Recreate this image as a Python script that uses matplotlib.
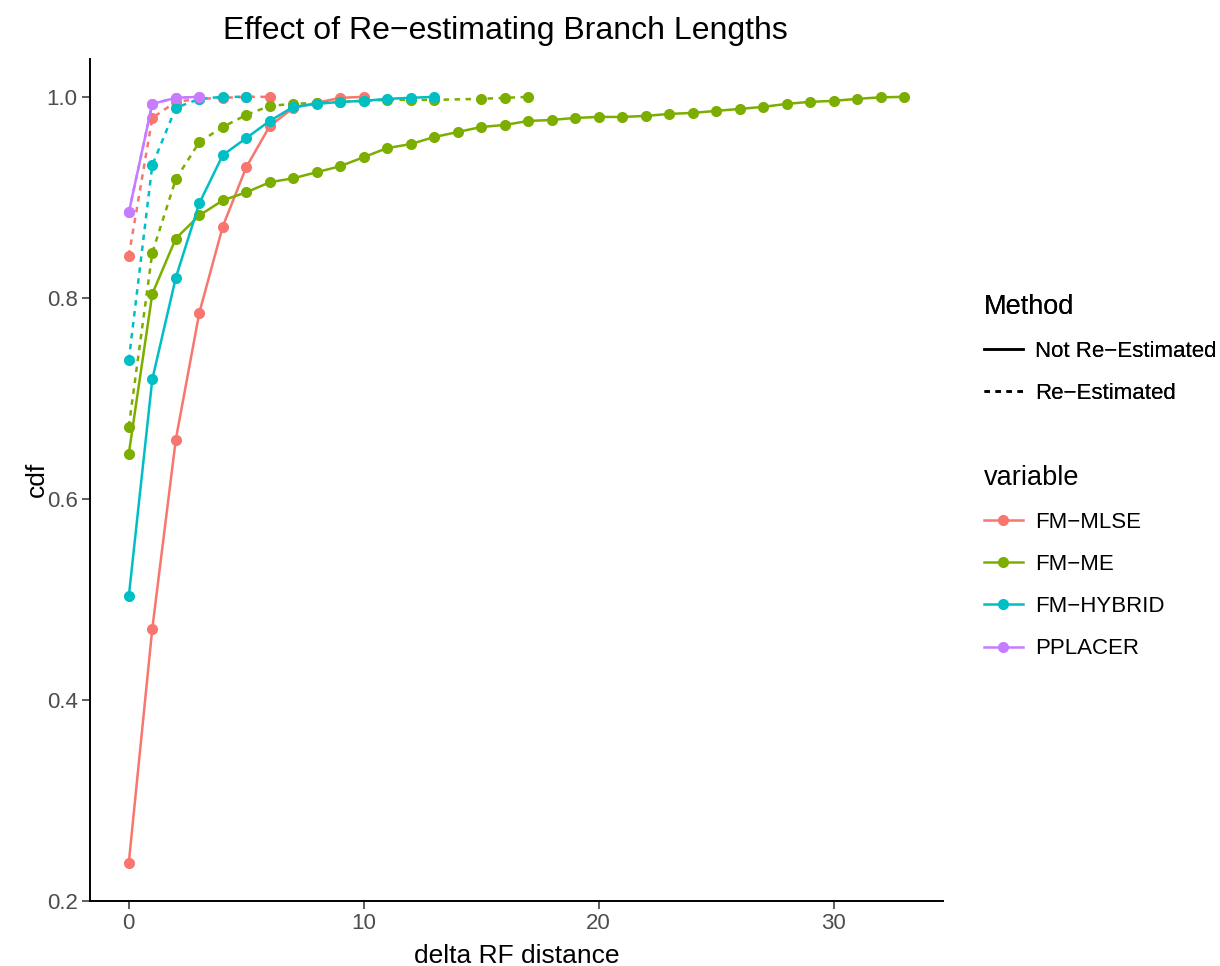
import matplotlib
matplotlib.use("Agg")
import matplotlib.pyplot as plt
from matplotlib.lines import Line2D

plt.rcParams['font.family'] = ['Liberation Sans', 'DejaVu Sans']

# cdf of delta RF distance, per placement method
mlse_x = list(range(0, 11))
mlse_y = [0.238, 0.471, 0.659, 0.785, 0.871, 0.930, 0.971, 0.989, 0.994, 0.999, 1.000]
mlse_re_x = list(range(0, 7))
mlse_re_y = [0.842, 0.979, 0.995, 0.998, 0.999, 1.000, 1.000]

me_x = list(range(0, 34))
me_y = [0.645, 0.804, 0.859, 0.882, 0.897, 0.905, 0.915, 0.919, 0.925, 0.931,
        0.940, 0.949, 0.953, 0.960, 0.965, 0.970, 0.972, 0.976, 0.977, 0.979,
        0.980, 0.980, 0.981, 0.983, 0.984, 0.986, 0.988, 0.990, 0.993, 0.995,
        0.996, 0.998, 0.9995, 1.000]
me_re_x = [0, 1, 2, 3, 4, 5, 6, 7, 8, 9, 10, 11, 12, 13, 15, 16, 17]
me_re_y = [0.672, 0.845, 0.918, 0.955, 0.970, 0.982, 0.991, 0.993, 0.994, 0.995,
           0.996, 0.997, 0.997, 0.997, 0.998, 0.999, 1.000]

hyb_x = list(range(0, 14))
hyb_y = [0.503, 0.719, 0.820, 0.894, 0.942, 0.959, 0.976, 0.990, 0.993, 0.995,
         0.996, 0.998, 0.999, 1.000]
hyb_re_x = list(range(0, 6))
hyb_re_y = [0.738, 0.932, 0.989, 0.998, 1.000, 1.000]

ppl_x = [0, 1, 2, 3]
ppl_y = [0.885, 0.993, 0.999, 1.000]
ppl_re_x = [0, 1, 2, 3]
ppl_re_y = [0.885, 0.993, 0.999, 1.000]

variables = ["FM\u2212MLSE", "FM\u2212ME", "FM\u2212HYBRID", "PPLACER"]
colors = ["#F8766D", "#7CAE00", "#00BFC4", "#C77CFF"]
methods = ["Not Re\u2212Estimated", "Re\u2212Estimated"]

series = [
    (mlse_x, mlse_y, mlse_re_x, mlse_re_y),
    (me_x, me_y, me_re_x, me_re_y),
    (hyb_x, hyb_y, hyb_re_x, hyb_re_y),
    (ppl_x, ppl_y, ppl_re_x, ppl_re_y),
]

fig = plt.figure(figsize=(12.2, 9.66), dpi=100)
ax = fig.add_axes([0.0738, 0.0673, 0.699, 0.872])

lw = 1.8
ms = 8
dash = (2.2, 2.2)
for (x, y, xr, yr), c in zip(series, colors):
    ax.plot(xr, yr, color=c, lw=lw, ls=(0, dash), marker='o', ms=ms, mew=0)
    ax.plot(x, y, color=c, lw=lw, ls='-', marker='o', ms=ms, mew=0)

ax.set_xlim(-1.65, 34.65)
ax.set_ylim(0.2, 1.038)
ax.set_xticks([0, 10, 20, 30])
ax.set_yticks([0.2, 0.4, 0.6, 0.8, 1.0])
ax.set_yticklabels(["0.2", "0.4", "0.6", "0.8", "1.0"])
for s in ['top', 'right']:
    ax.spines[s].set_visible(False)
for s in ['left', 'bottom']:
    ax.spines[s].set_linewidth(1.4)
    ax.spines[s].set_color('black')
ax.tick_params(axis='both', labelsize=16, labelcolor='#4D4D4D', color='#333333',
               length=6, width=1.1, pad=3)
ax.set_xlabel("delta RF distance", fontsize=19, labelpad=7)
ax.set_ylabel("cdf", fontsize=19, labelpad=-2)
ax.set_title("Effect of Re\u2212estimating Branch Lengths", fontsize=23, pad=14, x=0.4865)

# legends
m_handles = [Line2D([], [], color='black', lw=lw, ls='-'),
             Line2D([], [], color='black', lw=lw, ls=(0, dash))]
leg1 = fig.legend(m_handles, methods, title="Method", loc='upper left',
                  bbox_to_anchor=(0.799, 0.705), frameon=False, fontsize=16,
                  title_fontsize=19.5, handlelength=1.75, handletextpad=0.55,
                  labelspacing=0.95, alignment='left', borderaxespad=0)
v_handles = [Line2D([], [], color=c, lw=lw, marker='o', ms=ms, mew=0) for c in colors]
leg2 = fig.legend(v_handles, variables, title="variable", loc='upper left',
                  bbox_to_anchor=(0.799, 0.528), frameon=False, fontsize=16,
                  title_fontsize=19.5, handlelength=1.75, handletextpad=0.55,
                  labelspacing=0.95, alignment='left', borderaxespad=0)
fig.add_artist(leg1)

fig.savefig("out.png", dpi=100)
